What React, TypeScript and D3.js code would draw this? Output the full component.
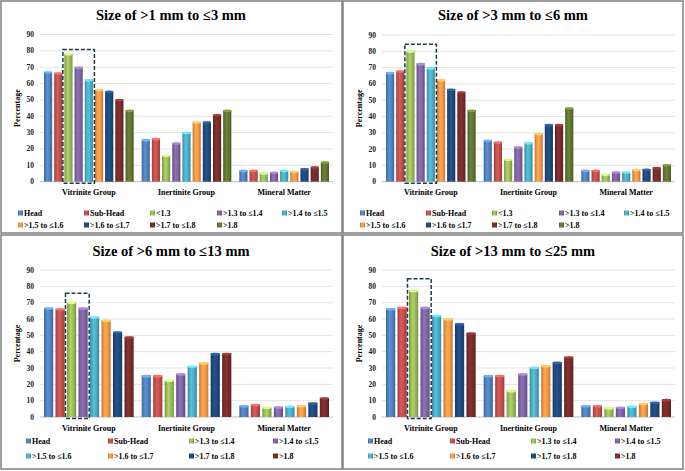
import React from "react";
import * as d3 from "d3";

const categories = ["Vitrinite Group", "Inertinite Group", "Mineral Matter"];
const yTicks = [0, 10, 20, 30, 40, 50, 60, 70, 80, 90];

const seriesTop = ["Head", "Sub-Head", "<1.3", ">1.3 to ≤1.4", ">1.4 to ≤1.5", ">1.5 to ≤1.6", ">1.6 to ≤1.7", ">1.7 to ≤1.8", ">1.8"];
const seriesBottom = ["Head", "Sub-Head", ">1.3 to ≤1.4", ">1.4 to ≤1.5", ">1.5 to ≤1.6", ">1.6 to ≤1.7", ">1.7 to ≤1.8", ">1.8"];
const colorsTop = ["#4F81BD", "#C0504D", "#9BBB59", "#8064A2", "#4BACC6", "#F79646", "#1F497D", "#772C2A", "#5F7530"];
const colorsBottom = ["#4F81BD", "#C0504D", "#9BBB59", "#8064A2", "#4BACC6", "#F79646", "#1F497D", "#772C2A"];

const titles = ["Size of >1 mm to ≤3 mm", "Size of >3 mm to ≤6 mm", "Size of >6 mm to ≤13 mm", "Size of >13 mm to ≤25 mm"];

// values per category (Vitrinite, Inertinite, Mineral), one entry per series
const size1to3 = [
  [67.2, 66.6, 78.4, 70.2, 62.5, 56.4, 55.4, 50.3, 43.8],
  [25.9, 26.5, 16.3, 23.8, 30.3, 36.7, 36.7, 41.1, 43.8],
  [7.1, 7.1, 5.5, 5.9, 7.1, 6.5, 8.1, 9.2, 12.2],
];
const size3to6 = [
  [67.1, 68.1, 80.4, 72.6, 70.0, 62.8, 56.9, 55.2, 44.0],
  [25.6, 24.5, 13.9, 21.5, 24.1, 29.7, 35.2, 35.2, 45.4],
  [7.2, 7.2, 4.7, 6.1, 6.1, 7.6, 7.8, 8.8, 10.6],
];
const size6to13 = [
  [66.9, 66.3, 70.4, 66.9, 61.4, 59.4, 52.2, 49.2],
  [25.5, 25.5, 22.7, 26.5, 31.2, 33.3, 39.0, 39.0],
  [7.1, 7.8, 6.1, 6.3, 6.7, 7.1, 8.8, 11.8],
];
const size13to25 = [
  [66.5, 67.3, 77.6, 67.3, 62.4, 60.2, 57.3, 51.6],
  [25.5, 25.5, 16.3, 26.5, 30.6, 31.6, 33.7, 36.9],
  [7.1, 7.1, 5.7, 6.1, 6.7, 8.4, 9.2, 10.8],
];

// highlighted box: [first series index, last series index, top value]
const highlightTop1 = [2, 4, 80.8];
const highlightTop2 = [2, 4, 84.3];
const highlightBottom1 = [2, 3, 75.7];
const highlightBottom2 = [2, 3, 84.7];

const FONT = "'Liberation Serif', 'Times New Roman', serif";

type PanelProps = {
  id: string;
  x: number;
  y: number;
  w: number;
  h: number;
  title: string;
  series: string[];
  colors: string[];
  values: number[][];
  highlight: number[];
  titleY: number;
  plotTop: number;
  plotBottom: number;
  legendRows: number[];
  legendCols: number[];
};

function Panel(p: PanelProps) {
  const left = 39;
  const right = 332;
  const yScale = d3.scaleLinear().domain([0, 90]).range([p.plotBottom, p.plotTop]);
  const xCat = d3.scaleBand<string>().domain(categories).range([left, right]).padding(0);
  const inner = d3
    .scaleBand<string>()
    .domain(p.series)
    .range([4, xCat.bandwidth() - 4])
    .paddingInner(0.2)
    .paddingOuter(0);
  const nCols = p.legendCols.length;
  const hl = p.highlight;
  const hx0 = (xCat(categories[0]) as number) + (inner(p.series[hl[0]]) as number) - 1.5;
  const hx1 = (xCat(categories[0]) as number) + (inner(p.series[hl[1]]) as number) + inner.bandwidth() + 1.5;
  return (
    <g transform={`translate(${p.x},${p.y})`}>
      <defs>
        {p.colors.map((c, i) => {
          const base = d3.color(c) as d3.RGBColor;
          return (
            <linearGradient key={i} id={`${p.id}-g${i}`} x1="0" x2="1" y1="0" y2="0">
              <stop offset="0" stopColor={base.darker(0.6).toString()} />
              <stop offset="0.4" stopColor={base.brighter(0.35).toString()} />
              <stop offset="0.7" stopColor={c} />
              <stop offset="1" stopColor={base.darker(0.7).toString()} />
            </linearGradient>
          );
        })}
      </defs>
      <rect x={0} y={0} width={p.w} height={p.h} fill="#ffffff" stroke="#808080" strokeWidth={1.5} />
      <text x={170} y={p.titleY} textAnchor="middle" dominantBaseline="central" fontFamily={FONT} fontWeight="bold" fontSize={14.5} fill="#000">
        {p.title}
      </text>
      {yTicks.map((t) => (
        <g key={t}>
          <line x1={left} x2={right} y1={yScale(t)} y2={yScale(t)} stroke={t === 0 ? "#bfbfbf" : "#e3e3e3"} strokeWidth={1} />
          <text x={33} y={yScale(t)} textAnchor="end" dominantBaseline="central" fontFamily={FONT} fontWeight="bold" fontSize={7.5} fill="#222">
            {t}
          </text>
        </g>
      ))}
      <text
        transform={`translate(16,${(p.plotTop + p.plotBottom) / 2}) rotate(-90)`}
        textAnchor="middle"
        dominantBaseline="central"
        fontFamily={FONT}
        fontWeight="bold"
        fontSize={8}
        fill="#000"
      >
        Percentage
      </text>
      {categories.map((cat, ci) => (
        <g key={cat} transform={`translate(${xCat(cat)},0)`}>
          {p.series.map((s, si) => {
            const v = p.values[ci][si];
            const bx = inner(s) as number;
            const bw = inner.bandwidth();
            const top = yScale(v);
            const base = d3.color(p.colors[si]) as d3.RGBColor;
            return (
              <g key={s}>
                <rect x={bx} y={top} width={bw} height={p.plotBottom - top} fill={`url(#${p.id}-g${si})`} />
                <ellipse cx={bx + bw / 2} cy={top + 0.8} rx={bw / 2} ry={1.3} fill={base.brighter(0.9).toString()} />
              </g>
            );
          })}
          <text x={xCat.bandwidth() / 2} y={p.plotBottom + 11} textAnchor="middle" dominantBaseline="central" fontFamily={FONT} fontWeight="bold" fontSize={8} fill="#000">
            {cat}
          </text>
        </g>
      ))}
      <rect
        x={hx0}
        y={yScale(hl[2])}
        width={hx1 - hx0}
        height={p.plotBottom + 1.5 - yScale(hl[2])}
        fill="none"
        stroke="#1d3c4a"
        strokeWidth={1.5}
        strokeDasharray="4,2"
      />
      {p.series.map((s, si) => {
        const row = Math.floor(si / nCols);
        const col = si % nCols;
        const lx = p.legendCols[col];
        const ly = p.legendRows[row];
        return (
          <g key={s}>
            <rect x={lx} y={ly - 2.5} width={5} height={5} fill={`url(#${p.id}-g${si})`} />
            <text x={lx + 6} y={ly} dominantBaseline="central" fontFamily={FONT} fontWeight="bold" fontSize={8} fill="#000">
              {s}
            </text>
          </g>
        );
      })}
    </g>
  );
}

export default function App() {
  const topRows = [212, 224];
  const topCols = [17, 83, 149, 216, 281];
  const botRows = [206, 221];
  const botCols = [25, 107, 188, 272];
  return (
    <svg width={685} height={471} style={{ position: "absolute", left: 0, top: 0, background: "#fff" }}>
      <Panel id="p1" x={1} y={1} w={341} h={232} title={titles[0]} series={seriesTop} colors={colorsTop} values={size1to3} highlight={highlightTop1} titleY={14} plotTop={33.5} plotBottom={180.7} legendRows={topRows} legendCols={topCols} />
      <Panel id="p2" x={343} y={1} w={340} h={232} title={titles[1]} series={seriesTop} colors={colorsTop} values={size3to6} highlight={highlightTop2} titleY={14} plotTop={34} plotBottom={180.7} legendRows={topRows} legendCols={topCols} />
      <Panel id="p3" x={1} y={235} w={341} h={234} title={titles[2]} series={seriesBottom} colors={colorsBottom} values={size6to13} highlight={highlightBottom1} titleY={16} plotTop={35} plotBottom={182} legendRows={botRows} legendCols={botCols} />
      <Panel id="p4" x={343} y={235} w={340} h={234} title={titles[3]} series={seriesBottom} colors={colorsBottom} values={size13to25} highlight={highlightBottom2} titleY={16} plotTop={35} plotBottom={182} legendRows={botRows} legendCols={botCols} />
    </svg>
  );
}
